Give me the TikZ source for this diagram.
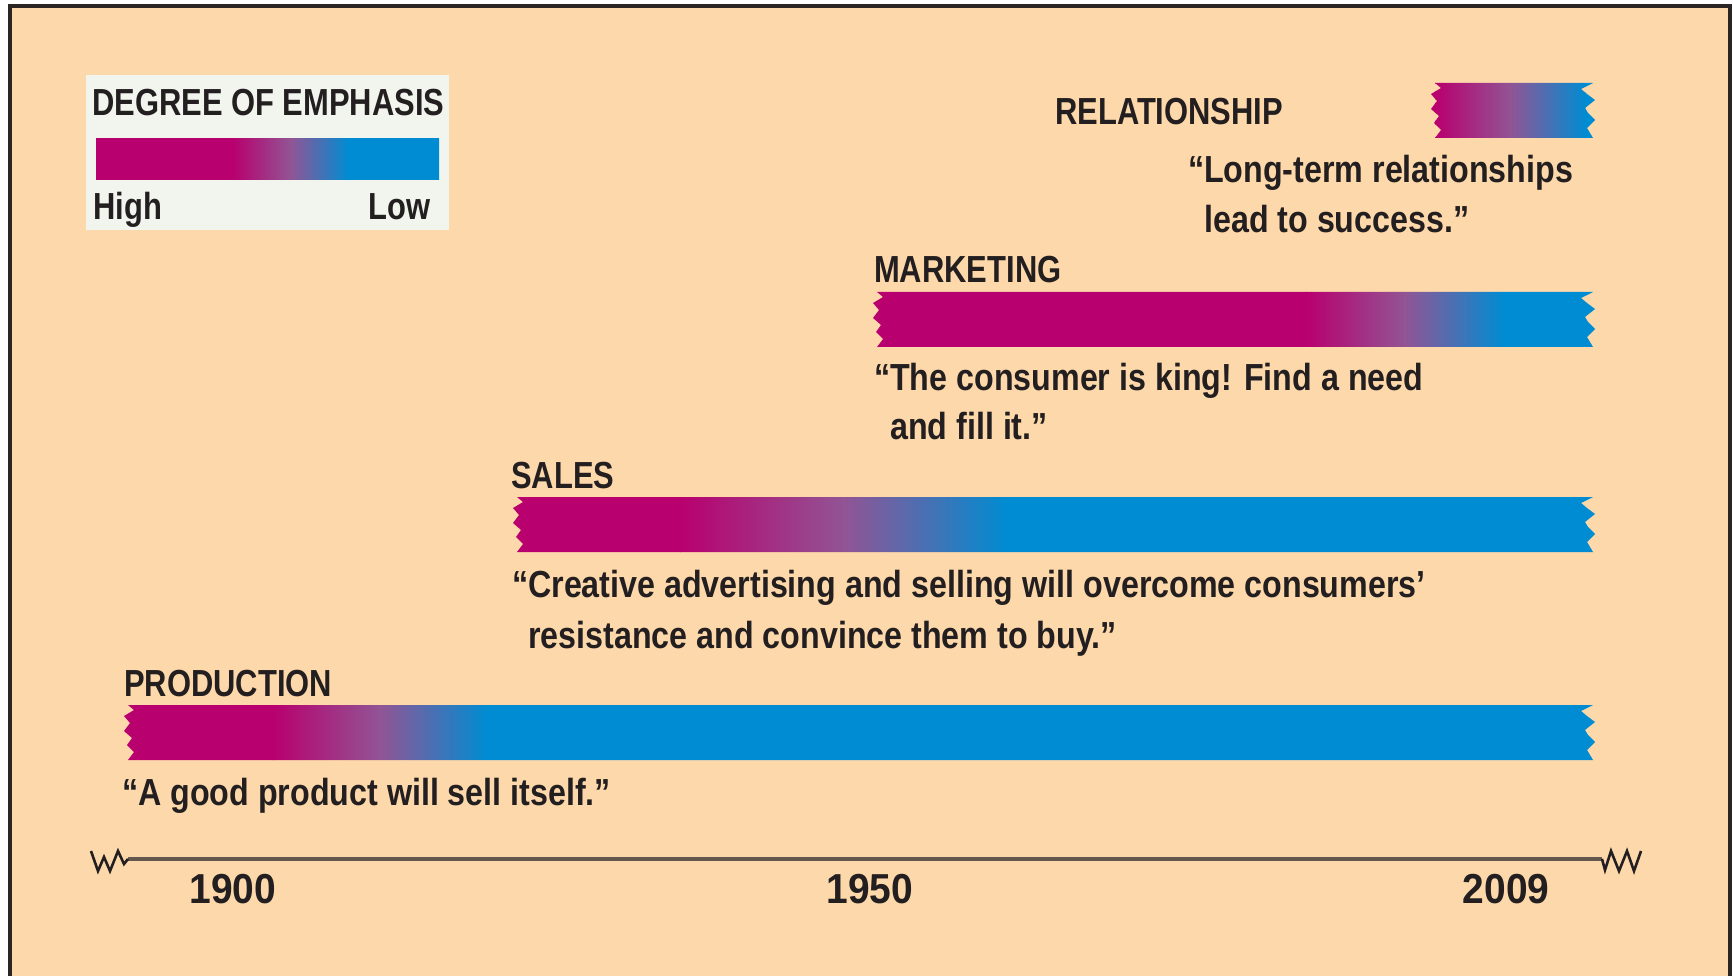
\documentclass[tikz,border=0pt]{standalone}
\usepackage{fontspec}
\usepackage{xcolor}
\usepackage{tikz}
\usetikzlibrary{positioning, calc}

\newfontfamily\gothic[FakeStretch=0.82]{Liberation Sans}
\newfontfamily\quotegothic[FakeStretch=0.855]{Liberation Sans}
\newfontfamily\yeargothic[FakeStretch=0.93]{Liberation Sans}

\definecolor{paper}{RGB}{253,216,170}
\definecolor{framecol}{RGB}{43,37,35}
\definecolor{legendbg}{RGB}{242,245,237}
\definecolor{high}{RGB}{184,0,110}
\definecolor{mid}{RGB}{146,84,148}
\definecolor{low}{RGB}{0,140,210}
\definecolor{ink}{RGB}{35,31,32}
\definecolor{axiscol}{RGB}{100,88,78}

\begin{document}
\begin{tikzpicture}[x=1pt, y=-1pt]
\tikzstyle{stage} = [inner sep=0, anchor=base west, text=ink, font={\gothic\bfseries\fontsize{37.7}{45}\selectfont}]
\tikzstyle{motto} = [inner sep=0, anchor=base west, text=ink, font={\quotegothic\bfseries\fontsize{37.7}{45}\selectfont}]
\tikzstyle{year} = [inner sep=0, anchor=base, text=ink, font={\yeargothic\bfseries\fontsize{41.9}{50}\selectfont}]
\tikzstyle{axisline} = [axiscol, line width=4.5]
\tikzstyle{zig} = [ink, line width=2.6, line join=miter]

\useasboundingbox (0,0) rectangle (1733,976);

% Paper and frame
\fill[white] (0,0) rectangle (1733,976);
\fill[paper] (10,6) rectangle (1730,976);
\draw[framecol, line width=4] (10,990) -- (10,6.5) -- (1730,6.5) -- (1730,990);

% Legend
\node[fill=legendbg, anchor=north west, inner sep=0, minimum width=363, minimum height=155] (legend) at (86,75) {};
\node[stage] (legendtitle) at (92,116) {DEGREE OF EMPHASIS};
\begin{scope}
  \clip (96,139) rectangle (439,180);
  \fill[high] (95,137) rectangle (233.5,182);
  \shade[left color=high, right color=mid] (233,137) rectangle (290.5,182);
  \shade[left color=mid, right color=low] (290,137) rectangle (348.5,182);
  \fill[low] (348,137) rectangle (440,182);
\end{scope}
\node[stage] (high) at (93,220) {High};
\node[stage, anchor=base east] (low) at (431,220) {Low};

% Emphasis bars, torn at both ends
\foreach \lx/\ty/\fa/\fb/\nm in {124/705/273/486/production, 513/497/680/1006/sales, 873/292/1306/1503/marketing, 1431/83/1435/1585/relationship}{
  \begin{scope}
    \clip (\lx+4,\ty) -- (1593,\ty) -- (1581,\ty+6) -- (1587,\ty+11) -- (1595,\ty+17) -- (1585,\ty+25) -- (1588,\ty+30) -- (1595,\ty+37) -- (1587,\ty+45) -- (1593,\ty+55)
      -- (\lx+4,\ty+55) -- (\lx+10,\ty+47) -- (\lx+3,\ty+40) -- (\lx+8,\ty+33) -- (\lx,\ty+26) -- (\lx+6,\ty+18) -- (\lx,\ty+11) -- (\lx+10,\ty+5) -- cycle;
    \fill[high] (\lx-2,\ty-1) rectangle (\fa+0.5,\ty+56);
    \shade[left color=high, right color=mid] (\fa,\ty-1) rectangle ({(\fa+\fb)/2+0.5},\ty+56);
    \shade[left color=mid, right color=low] ({(\fa+\fb)/2},\ty-1) rectangle (\fb+0.5,\ty+56);
    \fill[low] (\fb,\ty-1) rectangle (1600,\ty+56);
  \end{scope}
  \coordinate (\nm bar) at (\lx,\ty);
}

% Relationship
\node[stage] (relationship) at (1055,125) {RELATIONSHIP};
\node[motto] (relquote) at (1204,183) {\llap{“}Long-term relationships};
\node[motto] (relquote2) at (1204,233) {lead to success.”};

% Marketing
\node[stage] (marketing) at (874,283) {MARKETING};
\node[motto] (mktquote) at (890,391) {\llap{“}The consumer is king! Find a need};
\node[motto] (mktquote2) at (890,439) {and fill it.”};

% Sales
\node[stage] (sales) at (511,488) {SALES};
\node[motto] (salesquote) at (528,597) {\llap{“}Creative advertising and selling will overcome consumers’};
\node[motto] (salesquote2) at (528,648) {resistance and convince them to buy.”};

% Production
\node[stage] (production) at (124,696) {PRODUCTION};
\node[motto] (prodquote) at (138,805) {\llap{“}A good product will sell itself.”};

% Time axis
\coordinate (axstart) at (128,859);
\coordinate (axend) at (1602,859);
\draw[axisline] (axstart) -- (axend);
\draw[zig] (91,851) -- (98,871) -- (104,857) -- (110,871) -- (118,851) -- (124,864) -- (axstart);
\draw[zig] (axend) -- (1605,870) -- (1611,851) -- (1619,871) -- (1627,851) -- (1634,871) -- (1641,851);

\node[year] (y1900) at (233,903) {1900};
\node[year] (y1950) at (870,903) {1950};
\node[year] (y2009) at (1506,903) {2009};
\end{tikzpicture}
\end{document}
